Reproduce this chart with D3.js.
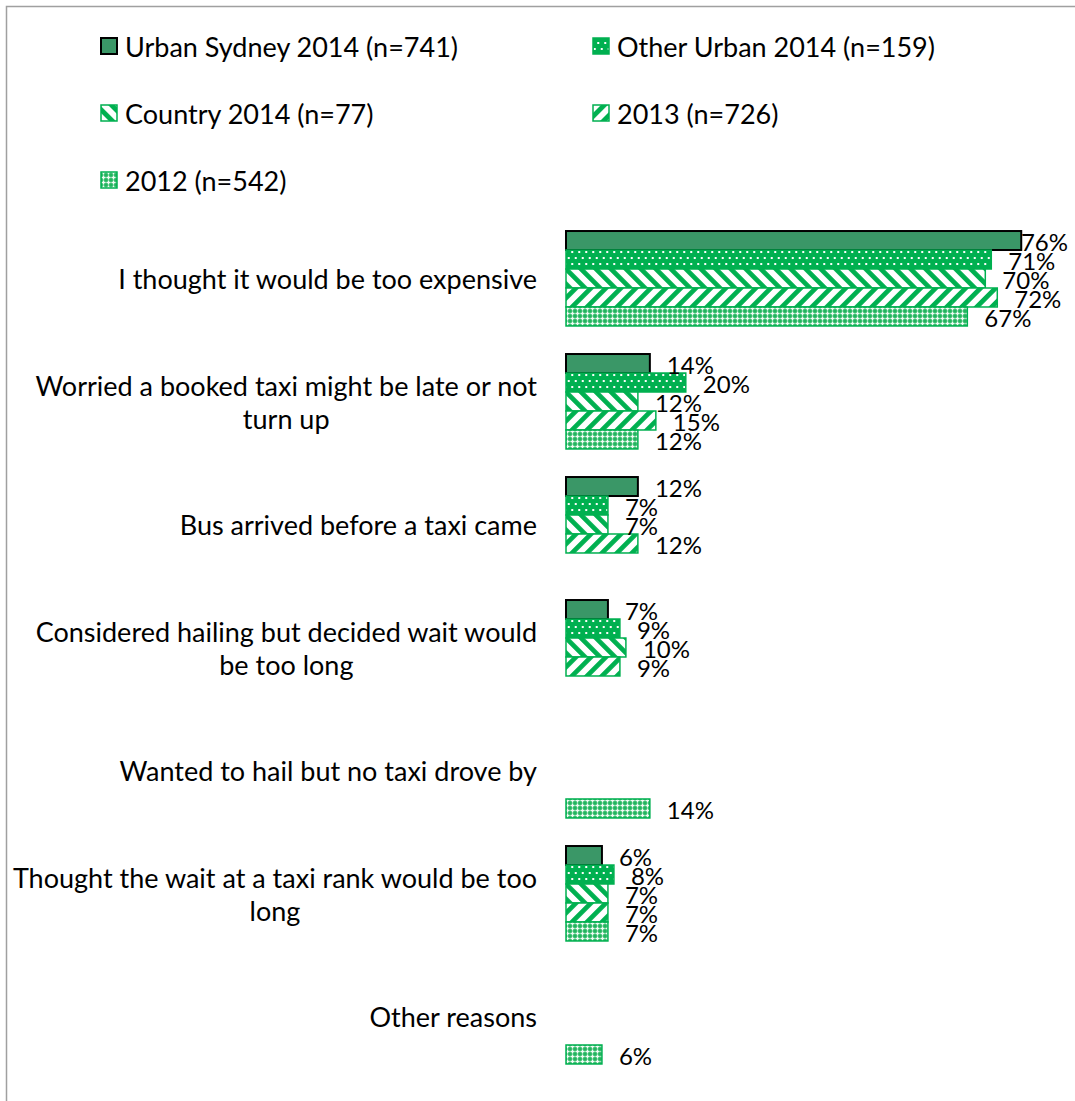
<!DOCTYPE html>
<html>
<head>
<meta charset="utf-8">
<script src="https://cdn.jsdelivr.net/npm/d3@7"></script>
<style>
  html, body { margin: 0; padding: 0; background: #fff; }
  svg { display: block; font-family: Lato, "Open Sans", sans-serif; }
</style>
</head>
<body>
<svg id="chart" width="1075" height="1101"></svg>
<script>
// Reasons for not taking a taxi, by respondent group (% of respondents)
const categories = [
  "I thought it would be too expensive",
  "Worried a booked taxi might be late or not turn up",
  "Bus arrived before a taxi came",
  "Considered hailing but decided wait would be too long",
  "Wanted to hail but no taxi drove by",
  "Thought the wait at a taxi rank would be too long",
  "Other reasons"
];
const seriesNames = [
  "Urban Sydney 2014 (n=741)",
  "Other Urban 2014 (n=159)",
  "Country 2014 (n=77)",
  "2013 (n=726)",
  "2012 (n=542)"
];
const urbanSydney2014 = [76, 14, 12, 7, null, 6, null];
const otherUrban2014  = [71, 20, 7, 9, null, 8, null];
const country2014     = [70, 12, 7, 10, null, 7, null];
const year2013        = [72, 15, 12, 9, null, 7, null];
const year2012        = [67, 12, null, null, 14, 7, 6];
const seriesValues = [urbanSydney2014, otherUrban2014, country2014, year2013, year2012];

const W = 1075, H = 1101;
const GREEN = "#00B050";
const DARK = "#3A9767";
const VAL_FONT = 24;   // data labels
const TXT_FONT = 27;   // category and legend text

const svg = d3.select("#chart");
const defs = svg.append("defs");

// --- fill patterns ---
// dotted green
const pDots = defs.append("pattern").attr("id", "p-dots")
  .attr("patternUnits", "userSpaceOnUse").attr("width", 7).attr("height", 12);
pDots.append("rect").attr("width", 7).attr("height", 12).attr("fill", GREEN);
[[1.75, 3], [5.25, 9]].forEach(([cx, cy]) =>
  pDots.append("rect").attr("x", cx - 1).attr("y", cy - 1).attr("width", 2).attr("height", 2).attr("fill", "#fff"));

// wide downward diagonal
const S = 10.6;
const pDown = defs.append("pattern").attr("id", "p-down")
  .attr("patternUnits", "userSpaceOnUse").attr("width", S).attr("height", S)
  .attr("patternTransform", "rotate(-45)");
pDown.append("rect").attr("width", S).attr("height", S).attr("fill", "#fff");
pDown.append("rect").attr("width", S * 0.45).attr("height", S).attr("fill", GREEN);

// wide upward diagonal
const pUp = defs.append("pattern").attr("id", "p-up")
  .attr("patternUnits", "userSpaceOnUse").attr("width", S).attr("height", S)
  .attr("patternTransform", "rotate(45)");
pUp.append("rect").attr("width", S).attr("height", S).attr("fill", "#fff");
pUp.append("rect").attr("width", S * 0.45).attr("height", S).attr("fill", GREEN);

// lattice of small white crosses
const pLat = defs.append("pattern").attr("id", "p-lattice")
  .attr("patternUnits", "userSpaceOnUse").attr("width", 5).attr("height", 5);
pLat.append("rect").attr("width", 5).attr("height", 5).attr("fill", "#22b55e");
pLat.append("rect").attr("x", 1.8).attr("y", 0.4).attr("width", 1.4).attr("height", 4.2).attr("fill", "#f2fbf5");
pLat.append("rect").attr("x", 0.4).attr("y", 1.8).attr("width", 4.2).attr("height", 1.4).attr("fill", "#f2fbf5");

const styles = [
  { fill: DARK, stroke: "#000", sw: 2 },
  { fill: "url(#p-dots)", stroke: GREEN, sw: 1.5 },
  { fill: "url(#p-down)", stroke: GREEN, sw: 1.5 },
  { fill: "url(#p-up)", stroke: GREEN, sw: 1.5 },
  { fill: "url(#p-lattice)", stroke: GREEN, sw: 1.5 }
];

// chart area outline
svg.append("rect")
  .attr("x", 6.5).attr("y", 6.5).attr("width", W + 50).attr("height", H + 50)
  .attr("fill", "none").attr("stroke", "#a0a0a0").attr("stroke-width", 1.5);

// --- scales ---
const x = d3.scaleLinear().domain([0, 100]).range([566, 1165]);
const y0 = d3.scaleBand().domain(categories).range([217, 1078])
  .paddingInner(0.228).paddingOuter(0.114);
const y1 = d3.scaleBand().domain(seriesNames).range([0, y0.bandwidth()]);

// --- bars ---
const groups = svg.append("g").selectAll("g")
  .data(categories).join("g")
  .attr("transform", d => `translate(0,${y0(d)})`);

const barData = ci => seriesNames.map((s, si) => ({ s, si, v: seriesValues[si][ci] }))
  .filter(d => d.v != null);

groups.each(function (cat, ci) {
  d3.select(this).selectAll("rect.bar").data(barData(ci)).join("rect")
    .attr("class", "bar")
    .attr("x", x(0))
    .attr("y", d => y1(d.s))
    .attr("width", d => x(d.v) - x(0))
    .attr("height", y1.bandwidth())
    .attr("fill", d => styles[d.si].fill)
    .attr("stroke", d => styles[d.si].stroke)
    .attr("stroke-width", d => styles[d.si].sw);
});

// value labels (drawn after all bars so they sit on top)
const labelRight = 1068;
groups.each(function (cat, ci) {
  d3.select(this).selectAll("text.val").data(barData(ci)).join("text")
    .attr("class", "val")
    .attr("font-size", VAL_FONT)
    .attr("fill", "#000")
    .attr("dominant-baseline", "central")
    .attr("y", d => y1(d.s) + y1.bandwidth() / 2 + 1)
    .text(d => d.v + "%")
    .attr("x", function (d) {
      const w = this.getComputedTextLength();
      let px = x(d.v) + 17;
      if (px + w > labelRight) px = labelRight - w;
      return px;
    });
});

// --- category axis labels (wrapped, centred lines, right-aligned block) ---
const labelEdge = 537, wrapWidth = 532, lineH = 33;
const catG = svg.append("g");
categories.forEach(cat => {
  const words = cat.split(" ");
  const t = catG.append("text").attr("font-size", TXT_FONT).attr("fill", "#000");
  const probe = t.append("tspan");
  const measure = s => { probe.text(s); return probe.node().getComputedTextLength(); };
  const lines = [];
  let cur = [];
  words.forEach(w => {
    if (measure(cur.concat(w).join(" ")) > wrapWidth && cur.length) {
      lines.push(cur.join(" "));
      cur = [w];
    } else cur.push(w);
  });
  lines.push(cur.join(" "));
  const blockW = d3.max(lines, measure);
  probe.remove();
  const cx = labelEdge - blockW / 2;
  const cy = y0(cat) + y0.bandwidth() / 2;
  lines.forEach((l, i) => {
    t.append("tspan")
      .attr("x", cx).attr("text-anchor", "middle")
      .attr("y", cy + (i - (lines.length - 1) / 2) * lineH)
      .attr("dominant-baseline", "central")
      .text(l);
  });
});

// --- legend ---
const legendCols = [101, 593], legendTop = 46, legendRow = 67;
const leg = svg.append("g").selectAll("g").data(seriesNames).join("g")
  .attr("transform", (d, i) => `translate(${legendCols[i % 2]},${legendTop + Math.floor(i / 2) * legendRow})`);
leg.append("rect")
  .attr("x", 0).attr("y", -8).attr("width", 16).attr("height", 16)
  .attr("fill", (d, i) => styles[i].fill)
  .attr("stroke", (d, i) => styles[i].stroke)
  .attr("stroke-width", (d, i) => styles[i].sw);
leg.append("text")
  .attr("x", 24).attr("y", 0)
  .attr("dominant-baseline", "central")
  .attr("font-size", TXT_FONT).attr("fill", "#000")
  .text(d => d);
</script>
</body>
</html>
